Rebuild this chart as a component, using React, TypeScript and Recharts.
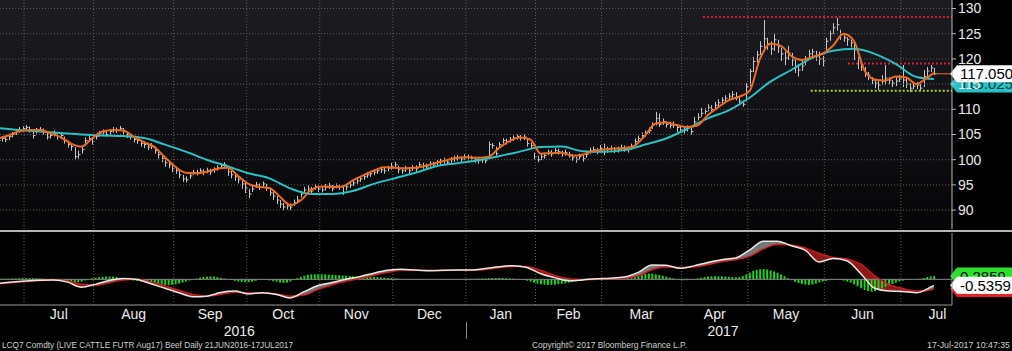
import { ComposedChart, Bar, Line, Area, XAxis, YAxis, ReferenceLine } from 'recharts'

const FONT = '"Liberation Sans", Arial, sans-serif'

// LCQ7 daily bars 21JUN2016 - 17JUL2017, one entry per trading day
const closes = [
  103.8, 104.2, 104.0, 104.6, 105.0, 105.6, 105.9, 106.2, // Jun
  106.4, 105.8, 104.8, 105.9, 106.0, 105.5, 104.5, 104.8, 105.2, 104.6, 104.8, 103.8, 103.0, 102.6, 100.6, 101.0, 102.0, 103.8, 104.2, 103.6, // Jul
  104.6, 105.2, 105.5, 105.0, 105.6, 106.0, 105.8, 106.2, 105.6, 104.9, 104.6, 104.0, 103.8, 103.2, 103.0, 102.5, 102.8, 101.8, 101.0, 100.2, 99.4, 99.0, 98.2, // Aug
  97.8, 97.0, 96.2, 96.0, 96.8, 97.5, 97.4, 97.8, 97.5, 97.9, 97.6, 98.0, 98.4, 98.8, 99.0, 97.6, 97.0, 96.6, 96.0, 95.2, 94.4, // Sep
  93.2, 94.2, 95.0, 94.6, 95.2, 94.4, 93.4, 92.8, 92.0, 91.2, 90.6, 90.8, 90.6, 91.5, 92.0, 93.2, 94.0, 94.2, 93.8, 94.6, 94.2, // Oct
  94.0, 94.5, 94.8, 94.2, 94.8, 94.6, 93.5, 94.6, 95.0, 95.4, 95.8, 96.2, 96.6, 97.0, 97.2, 97.5, 97.8, 98.0, 97.8, 98.3, 98.6, // Nov
  99.0, 98.0, 97.8, 98.2, 97.8, 98.4, 98.2, 99.0, 98.8, 98.6, 99.2, 99.0, 99.4, 99.6, 99.8, 99.5, 100.0, 100.2, 100.4, 100.1, 100.6, // Dec
  100.4, 100.2, 100.0, 99.8, 100.0, 99.8, 103.0, 102.8, 101.2, 103.0, 103.8, 103.6, 104.0, 104.3, 104.6, 104.4, 104.5, 103.2, 102.8, 100.6, // Jan
  100.0, 100.6, 100.8, 101.5, 101.2, 101.8, 101.6, 101.2, 101.4, 101.0, 100.4, 100.0, 100.6, 100.2, 101.0, 101.8, 102.0, 101.7, 102.2, // Feb
  101.6, 102.0, 102.2, 101.9, 102.0, 102.4, 102.2, 102.0, 102.6, 103.6, 104.2, 104.8, 105.2, 105.8, 106.8, 108.2, 107.0, 107.6, 107.0, 106.8, 106.9, 106.4, 106.0, // Mar
  105.8, 106.2, 105.6, 107.5, 108.4, 109.2, 109.6, 110.3, 110.0, 110.8, 111.3, 111.8, 112.2, 112.6, 112.9, 112.5, 111.6, 111.0, 114.5, // Apr
  117.5, 119.5, 120.8, 122.5, 124.0, 123.0, 122.0, 123.8, 122.4, 121.0, 120.2, 121.2, 119.8, 118.5, 117.8, 118.6, 119.8, 121.0, 121.4, 120.6, 120.0, 119.6, // May
  123.5, 125.0, 126.2, 126.8, 124.8, 124.2, 123.8, 123.2, 121.8, 120.0, 118.8, 117.2, 116.8, 115.8, 115.2, 114.8, 115.6, 116.2, 115.8, 115.2, 115.6, 116.0, // Jun
  115.8, 115.0, 114.2, 114.6, 114.8, 114.2, 116.5, 117.6, 118.2, 117.05, // Jul
]

const highs = [
  104.4, 104.6, 104.7, 105.0, 105.5, 106.0, 106.5, 106.7,
  106.9, 106.6, 106.0, 106.3, 106.5, 106.2, 105.4, 105.3, 105.8, 105.3, 105.2, 104.6, 103.8, 103.3, 102.5, 101.8, 102.6, 104.4, 104.9, 104.4,
  105.1, 105.7, 106.0, 105.7, 106.1, 106.5, 106.4, 106.7, 106.3, 105.5, 105.2, 104.7, 104.4, 103.8, 103.6, 103.2, 103.3, 102.6, 101.7, 101.0, 100.2, 99.6, 99.0,
  98.6, 97.8, 97.0, 96.7, 97.4, 98.0, 98.0, 98.3, 98.1, 98.4, 98.2, 98.5, 98.9, 99.3, 99.5, 98.6, 97.8, 97.4, 96.8, 96.0, 95.4,
  94.2, 94.9, 95.6, 95.3, 95.7, 95.2, 94.4, 93.6, 92.8, 92.0, 91.4, 91.5, 91.3, 92.1, 92.8, 93.8, 94.6, 94.9, 94.6, 95.2, 94.9,
  94.7, 95.2, 95.4, 95.0, 95.3, 95.1, 94.8, 95.2, 95.6, 96.0, 96.4, 96.8, 97.2, 97.6, 97.8, 98.1, 98.4, 98.6, 98.5, 98.8, 99.4,
  99.6, 98.8, 98.4, 98.8, 98.5, 98.9, 98.9, 99.5, 99.4, 99.2, 99.7, 99.6, 99.9, 100.2, 100.4, 100.1, 100.5, 100.8, 100.9, 100.7, 101.1,
  101.0, 100.8, 100.6, 100.4, 100.5, 100.4, 103.6, 103.3, 102.6, 103.5, 104.3, 104.2, 104.5, 104.8, 105.0, 104.9, 105.0, 104.2, 103.4, 101.4,
  100.8, 101.2, 101.4, 102.0, 101.9, 102.3, 102.2, 101.8, 102.0, 101.6, 101.1, 100.6, 101.2, 100.9, 101.6, 102.4, 102.6, 102.3, 102.9,
  103.2, 102.6, 102.8, 102.5, 102.6, 103.0, 102.8, 102.6, 103.2, 104.2, 104.8, 105.4, 105.8, 106.4, 107.4, 109.5, 109.2, 108.2, 107.6, 107.5, 107.6, 107.0, 106.6,
  106.5, 106.8, 106.4, 108.5, 109.2, 110.3, 110.2, 111.0, 110.8, 111.5, 112.0, 112.4, 112.8, 113.2, 113.6, 113.4, 112.6, 111.8, 115.2,
  118.0, 120.4, 121.6, 123.5, 127.7, 124.2, 123.5, 125.1, 123.8, 122.2, 121.4, 122.6, 121.2, 119.8, 119.0, 119.8, 120.6, 121.8, 122.0, 121.6, 121.4, 120.6,
  124.2, 125.6, 127.1, 128.1, 125.8, 124.7, 124.3, 123.8, 123.2, 120.4, 119.6, 118.4, 117.4, 116.4, 115.8, 115.6, 116.8, 118.8, 116.4, 115.8, 116.4, 116.8,
  118.8, 116.2, 115.2, 115.4, 115.4, 115.0, 117.8, 118.4, 118.8, 118.2,
]

const lows = [
  103.3, 103.6, 103.5, 103.9, 104.4, 104.9, 105.4, 105.6,
  105.8, 105.4, 104.2, 105.2, 105.5, 105.0, 104.0, 104.2, 104.6, 104.0, 104.1, 103.2, 102.4, 101.8, 100.0, 100.2, 101.2, 102.8, 103.6, 103.0,
  104.0, 104.6, 105.0, 104.6, 105.0, 105.4, 105.3, 105.7, 105.0, 104.3, 104.0, 103.4, 103.2, 102.6, 102.3, 101.9, 102.1, 101.2, 100.2, 99.5, 98.6, 98.3, 97.5,
  97.2, 96.3, 95.6, 95.5, 96.2, 97.0, 96.9, 97.2, 96.9, 97.3, 97.0, 97.4, 97.8, 98.2, 98.4, 96.8, 96.3, 95.8, 95.3, 94.2, 93.4,
  92.4, 93.6, 94.4, 94.0, 94.6, 93.8, 92.8, 92.0, 91.2, 90.4, 90.0, 90.1, 90.0, 90.8, 91.4, 92.5, 93.4, 93.6, 93.2, 94.0, 93.6,
  93.5, 93.9, 94.2, 93.7, 94.3, 94.0, 93.0, 93.9, 94.4, 94.8, 95.2, 95.6, 96.0, 96.4, 96.6, 96.9, 97.2, 97.4, 97.2, 97.7, 98.0,
  98.3, 97.3, 97.2, 97.6, 97.2, 97.8, 97.6, 98.4, 98.2, 98.0, 98.6, 98.4, 98.8, 99.0, 99.2, 98.9, 99.4, 99.6, 99.8, 99.5, 100.0,
  99.8, 99.6, 99.4, 99.2, 99.4, 99.3, 100.4, 102.2, 100.8, 102.4, 103.2, 103.0, 103.4, 103.7, 104.0, 103.8, 103.9, 102.6, 102.2, 100.0,
  99.5, 99.9, 100.2, 100.9, 100.6, 101.2, 101.0, 100.6, 100.8, 100.4, 99.8, 99.4, 100.0, 99.6, 100.4, 101.2, 101.4, 101.1, 101.4,
  100.9, 101.4, 101.6, 101.3, 101.4, 101.8, 101.6, 101.4, 102.0, 102.9, 103.6, 104.2, 104.6, 105.2, 106.1, 106.8, 106.5, 106.9, 106.4, 106.2, 106.3, 105.5, 105.3,
  105.2, 105.6, 105.0, 106.8, 107.8, 108.5, 109.0, 109.6, 109.4, 110.1, 110.6, 111.2, 111.6, 112.0, 112.2, 111.8, 110.8, 110.5, 111.6,
  114.6, 117.4, 119.2, 120.8, 121.4, 121.8, 120.8, 121.6, 121.2, 119.6, 118.8, 119.8, 118.6, 117.2, 116.5, 117.6, 118.8, 120.2, 120.6, 119.6, 118.8, 118.5,
  121.7, 123.6, 125.0, 125.6, 123.8, 123.4, 122.6, 122.3, 119.8, 118.0, 117.6, 116.4, 115.8, 115.0, 114.2, 113.8, 114.8, 114.8, 115.0, 114.4, 114.6, 115.4,
  114.4, 114.2, 113.4, 114.0, 114.0, 113.6, 114.4, 116.4, 117.4, 116.8,
]

// MACD histogram, daily
const hist = [
  0.03, 0.04, 0.05, 0.06, 0.07, 0.08, 0.09, 0.1,
  0.1, 0.11, 0.1, 0.09, 0.07, 0.05, 0.03, 0.02, 0.0, -0.03, -0.06, -0.1, -0.14, -0.2, -0.25, -0.26, -0.2, -0.1, 0.0, 0.08,
  0.14, 0.18, 0.22, 0.24, 0.25, 0.24, 0.2, 0.14, 0.08, 0.02, -0.04, -0.1, -0.15, -0.2, -0.25, -0.3, -0.35, -0.4, -0.45, -0.5, -0.52, -0.52, -0.5,
  -0.45, -0.38, -0.3, -0.2, -0.1, -0.02, 0.06, 0.14, 0.2, 0.24, 0.26, 0.25, 0.2, 0.14, 0.08, 0.02, -0.06, -0.14, -0.2, -0.24, -0.26,
  -0.26, -0.22, -0.14, -0.06, 0.0, -0.04, -0.1, -0.16, -0.22, -0.28, -0.32, -0.3, -0.2, -0.05, 0.1, 0.22, 0.32, 0.4, 0.44, 0.46, 0.46,
  0.45, 0.44, 0.42, 0.4, 0.38, 0.36, 0.34, 0.32, 0.3, 0.28, 0.27, 0.26, 0.25, 0.24, 0.22, 0.2, 0.18, 0.16, 0.14, 0.12, 0.1,
  0.08, 0.05, 0.02, 0.0, -0.02, -0.03, -0.03, -0.02, -0.02, -0.01, 0.0, 0.0, 0.01, 0.01, 0.02, 0.02, 0.02, 0.02, 0.03, 0.03, 0.03,
  0.03, 0.04, 0.05, 0.06, 0.07, 0.08, 0.1, 0.12, 0.12, 0.12, 0.12, 0.1, 0.08, 0.06, 0.03, 0.0, -0.05, -0.12, -0.2, -0.3,
  -0.38, -0.44, -0.48, -0.5, -0.5, -0.48, -0.44, -0.4, -0.35, -0.3, -0.25, -0.2, -0.15, -0.1, -0.06, -0.03, 0.0, 0.02, 0.03,
  0.04, 0.05, 0.05, 0.06, 0.07, 0.08, 0.1, 0.14, 0.2, 0.28, 0.36, 0.42, 0.48, 0.52, 0.5, 0.45, 0.4, 0.32, 0.24, 0.16, 0.08, 0.0, -0.05,
  -0.08, -0.08, -0.04, 0.02, 0.08, 0.14, 0.2, 0.24, 0.26, 0.27, 0.27, 0.26, 0.24, 0.22, 0.2, 0.18, 0.2, 0.3, 0.45,
  0.6, 0.75, 0.85, 0.9, 0.92, 0.88, 0.8, 0.7, 0.58, 0.44, 0.28, 0.1, -0.08, -0.22, -0.34, -0.42, -0.48, -0.5, -0.46, -0.38, -0.28, -0.2,
  -0.14, -0.08, -0.03, 0.0, -0.05, -0.12, -0.2, -0.3, -0.45, -0.62, -0.8, -0.95, -1.05, -1.1, -1.05, -0.95, -0.82, -0.68, -0.55, -0.42, -0.3, -0.2,
  -0.12, -0.06, -0.02, 0.0, 0.03, 0.06, 0.12, 0.2, 0.26, 0.2859,
]

// fast average (orange), read every 3rd day; slow average (cyan), every 6th day
const fastMa = [
  104.2, 104.8, 105.6, 105.9, 105.9, 105.3, 104.5, 103.2, 102.6, 104.2, 105.6, 105.9, 105.8, 104.6, 103.5, 102.5, 100.5, 98.6,
  97.4, 97.3, 97.6, 98.2, 98.4, 96.8, 95.2, 94.6, 94.4, 92.7, 91.0, 91.9, 94.0, 94.7, 94.6, 94.7, 95.9, 96.9, 97.8, 98.5,
  98.4, 98.3, 98.4, 98.8, 99.4, 99.9, 100.4, 100.5, 100.4, 100.6, 102.3, 103.7, 104.4, 104.0, 101.2, 101.3, 101.4, 100.8,
  101.0, 101.7, 102.0, 102.2, 102.3, 102.8, 104.8, 107.2, 107.4, 106.9, 106.5, 106.8, 108.8, 110.4, 111.8, 112.5, 113.6,
  120.0, 123.0, 122.6, 120.6, 119.8, 120.4, 121.0, 122.6, 125.0, 123.6, 117.8, 115.9, 115.7, 116.5, 116.3, 115.0, 116.3, 117.2,
]
const slowMa = [
  106.3, 105.9, 105.6, 105.3, 105.0, 104.8, 104.7, 104.3, 103.0, 101.6, 100.0, 98.7, 97.3, 96.3, 94.3, 93.2, 93.2, 93.8,
  95.2, 96.3, 97.4, 98.7, 99.3, 99.9, 100.7, 101.6, 102.5, 102.6, 101.7, 101.6, 101.9, 103.0, 104.2, 106.1, 108.2, 109.8,
  112.3, 115.5, 117.8, 120.2, 121.6, 122.0, 121.0, 119.0, 116.4, 116.0,
]

// MACD and signal, read every 4th day
const macd = [
  -0.38, -0.25, -0.15, -0.08, -0.06, -0.25, -0.7, -0.45, -0.1, 0.08, -0.02, -0.4, -0.8, -1.2, -1.55, -1.5, -1.18, -1.05,
  -1.3, -1.2, -1.35, -1.66, -1.1, -0.55, -0.28, 0.0, 0.24, 0.55, 0.8, 0.9, 0.82, 0.77, 0.8, 0.83, 0.84, 0.96, 1.12, 1.22,
  1.05, 0.5, 0.15, -0.12, -0.05, 0.05, 0.1, 0.2, 0.62, 1.28, 1.25, 0.98, 1.2, 1.5, 1.75, 1.9, 2.6, 3.4, 3.4, 3.0, 2.6,
  1.55, 1.85, 1.65, 0.5, -0.8, -1.05, -1.08, -1.2, -0.7, -0.5359,
]
const signal = [
  -0.4, -0.3, -0.2, -0.1, -0.06, -0.15, -0.45, -0.55, -0.3, -0.05, 0.0, -0.25, -0.6, -0.98, -1.35, -1.5, -1.35, -1.15,
  -1.2, -1.22, -1.3, -1.5, -1.4, -0.9, -0.5, -0.18, 0.08, 0.35, 0.62, 0.8, 0.84, 0.8, 0.79, 0.81, 0.83, 0.88, 1.02, 1.15,
  1.15, 0.78, 0.35, 0.05, -0.05, 0.0, 0.06, 0.12, 0.3, 0.85, 1.1, 1.06, 1.1, 1.3, 1.58, 1.75, 2.05, 2.7, 3.1, 3.05, 2.8,
  2.3, 1.95, 1.82, 1.35, 0.3, -0.45, -0.82, -1.05, -0.95, -0.8218,
]

// first trading day of each month (last one = start of Aug 2017, off the chart)
const monthStarts = [8, 28, 51, 72, 93, 114, 135, 155, 174, 197, 216, 238, 260, 281]
const monthNames = ['Jul', 'Aug', 'Sep', 'Oct', 'Nov', 'Dec', 'Jan', 'Feb', 'Mar', 'Apr', 'May', 'Jun', 'Jul']
const yearNames = ['2016', '2017']
const yearCentres = [67.6, 204.3]

const priceTicks = [90, 95, 100, 105, 110, 115, 120, 125, 130]

// drawn levels: value, first day
const levels = [
  { y: 128.3, from: 202.6, color: '#d4203c' },
  { y: 119.1, from: 244.3, color: '#d4203c' },
  { y: 113.7, from: 233.6, color: '#a8d626' },
]

const lastSlow = 115.025
const lastPrice = 117.05

const X_DOMAIN: [number, number] = [0.6, 274.2]
const last = closes.length - 1

const bars = closes.map((c, i) => ({ i, c, hi: highs[i], lo: lows[i], h: hist[i] }))
const fastRows = fastMa.map((v, k) => ({ i: Math.min(k * 3, last), v }))
const slowRows = slowMa.map((v, k) => ({ i: Math.min(k * 6, last), v }))
const macdRows = macd.map((m, k) => ({ i: Math.min(k * 4, last), m, s: signal[k] }))

const bounds = monthStarts.slice(0, monthNames.length).map((s) => s - 0.5)
const monthCentres = monthNames.map((_, k) => (monthStarts[k] + monthStarts[k + 1]) / 2 - 0.5)

const GRID = '#5e5e5e'

function OhlcShape(p: any) {
  const { x, y, width, height, payload } = p
  if (x == null || y == null || !payload) return null
  const top = Math.min(y, y + height)
  const h = Math.abs(height)
  const cx = Math.round(x + width / 2) + 0.5
  const yc = top + ((payload.hi - payload.c) / (payload.hi - payload.lo)) * h
  return (
    <g stroke="#c6c6c6" strokeWidth={1}>
      <line x1={cx} x2={cx} y1={top} y2={top + h} />
      <line x1={cx} x2={cx + 2} y1={yc} y2={yc} />
    </g>
  )
}

function Tag(props: any) {
  const { viewBox, text, bg, fg } = props
  if (!viewBox) return null
  const x = viewBox.x + viewBox.width
  const y = viewBox.y
  return (
    <g>
      <path d={`M${x - 2},${y} L${x + 5},${y - 8.5} H1012 V${y + 8.5} H${x + 5} Z`} fill={bg} />
      <text x={x + 8} y={y} dy="0.36em" fontSize={15} fontFamily={FONT} fill={fg}>
        {text}
      </text>
    </g>
  )
}

export default function App() {
  return (
    <div style={{ position: 'absolute', left: 0, top: 0, width: 1012, height: 351, background: '#000', overflow: 'hidden', fontFamily: FONT }}>
      <div style={{ position: 'absolute', left: 0, top: 0, width: 952, height: 229, background: 'linear-gradient(#1c1c22, #060608)' }} />

      {/* price panel */}
      <ComposedChart width={1012} height={229} data={bars} margin={{ top: 0, right: 0, bottom: 0, left: 0 }} style={{ position: 'absolute', left: 0, top: 0 }}>
        <XAxis dataKey="i" type="number" domain={X_DOMAIN} allowDataOverflow hide />
        <YAxis
          orientation="right"
          width={60}
          domain={[86.25, 131.69]}
          allowDataOverflow
          ticks={priceTicks}
          interval={0}
          tick={{ fill: '#e8e8e8', fontSize: 14, fontFamily: FONT }}
          tickSize={4}
          tickMargin={2}
          axisLine={{ stroke: '#b8b8b8' }}
          tickLine={{ stroke: '#b8b8b8' }}
        />
        {priceTicks.map((v) => (
          <ReferenceLine key={'h' + v} y={v} stroke={GRID} strokeDasharray="1 2" />
        ))}
        {bounds.map((b) => (
          <ReferenceLine key={'v' + b} x={b} stroke={GRID} strokeDasharray="1 2" />
        ))}
        {levels.map((l) => (
          <ReferenceLine key={'l' + l.y} segment={[{ x: l.from, y: l.y }, { x: X_DOMAIN[1], y: l.y }]} stroke={l.color} strokeWidth={2} strokeDasharray="2 2" />
        ))}
        <Bar dataKey={(d: any) => [d.lo, d.hi]} shape={OhlcShape} barSize={2} isAnimationActive={false} />
        <Line data={slowRows} dataKey="v" type="monotone" stroke="#27c1c6" strokeWidth={2} dot={false} activeDot={false} isAnimationActive={false} />
        <Line data={fastRows} dataKey="v" type="monotone" stroke="#f06a1e" strokeWidth={2} dot={false} activeDot={false} isAnimationActive={false} />
        <ReferenceLine segment={[{ x: last, y: lastPrice }, { x: X_DOMAIN[1], y: lastPrice }]} stroke="#f06a1e" />
        <ReferenceLine y={lastSlow} stroke="none" label={<Tag text="115.025" bg="#27c1c6" fg="#06393b" />} />
        <ReferenceLine y={lastPrice} stroke="none" label={<Tag text="117.050" bg="#ffffff" fg="#000000" />} />
      </ComposedChart>

      <div style={{ position: 'absolute', left: 0, top: 230, width: 1012, height: 2, background: '#b4b4b4' }} />

      {/* MACD panel */}
      <ComposedChart width={1012} height={108} data={bars} margin={{ top: 0, right: 0, bottom: 0, left: 0 }} style={{ position: 'absolute', left: 0, top: 233 }}>
        <XAxis
          dataKey="i"
          type="number"
          domain={X_DOMAIN}
          allowDataOverflow
          ticks={monthCentres}
          interval={0}
          tickFormatter={(v: number) => monthNames[monthCentres.indexOf(v)] ?? ''}
          tickLine={false}
          tickSize={0}
          tickMargin={4}
          height={18}
          axisLine={{ stroke: '#9a9a9a' }}
          tick={{ fill: '#ececec', fontSize: 14, fontFamily: FONT }}
        />
        <XAxis
          xAxisId="yr"
          type="number"
          domain={X_DOMAIN}
          allowDataOverflow
          ticks={yearCentres}
          interval={0}
          tickFormatter={(v: number) => yearNames[yearCentres.indexOf(v)] ?? ''}
          tickLine={false}
          axisLine={false}
          tickSize={0}
          tickMargin={3}
          height={18}
          tick={{ fill: '#ececec', fontSize: 14, fontFamily: FONT }}
        />
        <YAxis
          orientation="right"
          width={60}
          domain={[-2.29, 4.13]}
          allowDataOverflow
          ticks={[-2, 2]}
          tick={false}
          tickSize={4}
          axisLine={{ stroke: '#9a9a9a' }}
          tickLine={{ stroke: '#9a9a9a' }}
        />
        {bounds.map((b) => (
          <ReferenceLine key={'v' + b} x={b} stroke={GRID} strokeDasharray="1 2" />
        ))}
        <ReferenceLine y={0} stroke="#8a8a8a" />
        <Bar dataKey="h" fill="#1fd01f" barSize={2} isAnimationActive={false} />
        <Area data={macdRows} dataKey={(d: any) => [d.s, Math.max(d.m, d.s)]} type="monotone" stroke="none" fill="#8c8c8c" fillOpacity={0.85} activeDot={false} isAnimationActive={false} />
        <Area data={macdRows} dataKey={(d: any) => [Math.min(d.m, d.s), d.s]} type="monotone" stroke="none" fill="#a81c1c" fillOpacity={0.85} activeDot={false} isAnimationActive={false} />
        <Line data={macdRows} dataKey="s" type="monotone" stroke="#c81e1e" strokeWidth={1.5} dot={false} activeDot={false} isAnimationActive={false} />
        <Line data={macdRows} dataKey="m" type="monotone" stroke="#e8e8e8" strokeWidth={1.5} dot={false} activeDot={false} isAnimationActive={false} />
        <ReferenceLine y={signal[signal.length - 1]} stroke="none" label={<Tag text="-0.8218" bg="#e02424" fg="#ffffff" />} />
        <ReferenceLine y={hist[hist.length - 1]} stroke="none" label={<Tag text="0.2859" bg="#2ee02e" fg="#000000" />} />
        <ReferenceLine y={macd[macd.length - 1]} stroke="none" label={<Tag text="-0.5359" bg="#ffffff" fg="#000000" />} />
      </ComposedChart>

      <svg width={1012} height={351} style={{ position: 'absolute', left: 0, top: 0, pointerEvents: 'none' }}>
        <line x1={466.5} x2={466.5} y1={322} y2={339} stroke="#8a8a8a" />
        <g fontFamily={FONT} fontSize={9} fill="#cfcfcf">
          <text x={2} y={348} textLength={291} lengthAdjust="spacingAndGlyphs">LCQ7 Comdty (LIVE CATTLE FUTR  Aug17) Beef  Daily 21JUN2016-17JUL2017</text>
          <text x={532} y={348} textLength={155} lengthAdjust="spacingAndGlyphs">Copyright© 2017 Bloomberg Finance L.P.</text>
          <text x={927} y={348} textLength={83} lengthAdjust="spacingAndGlyphs">17-Jul-2017 10:47:35</text>
        </g>
      </svg>
    </div>
  )
}
